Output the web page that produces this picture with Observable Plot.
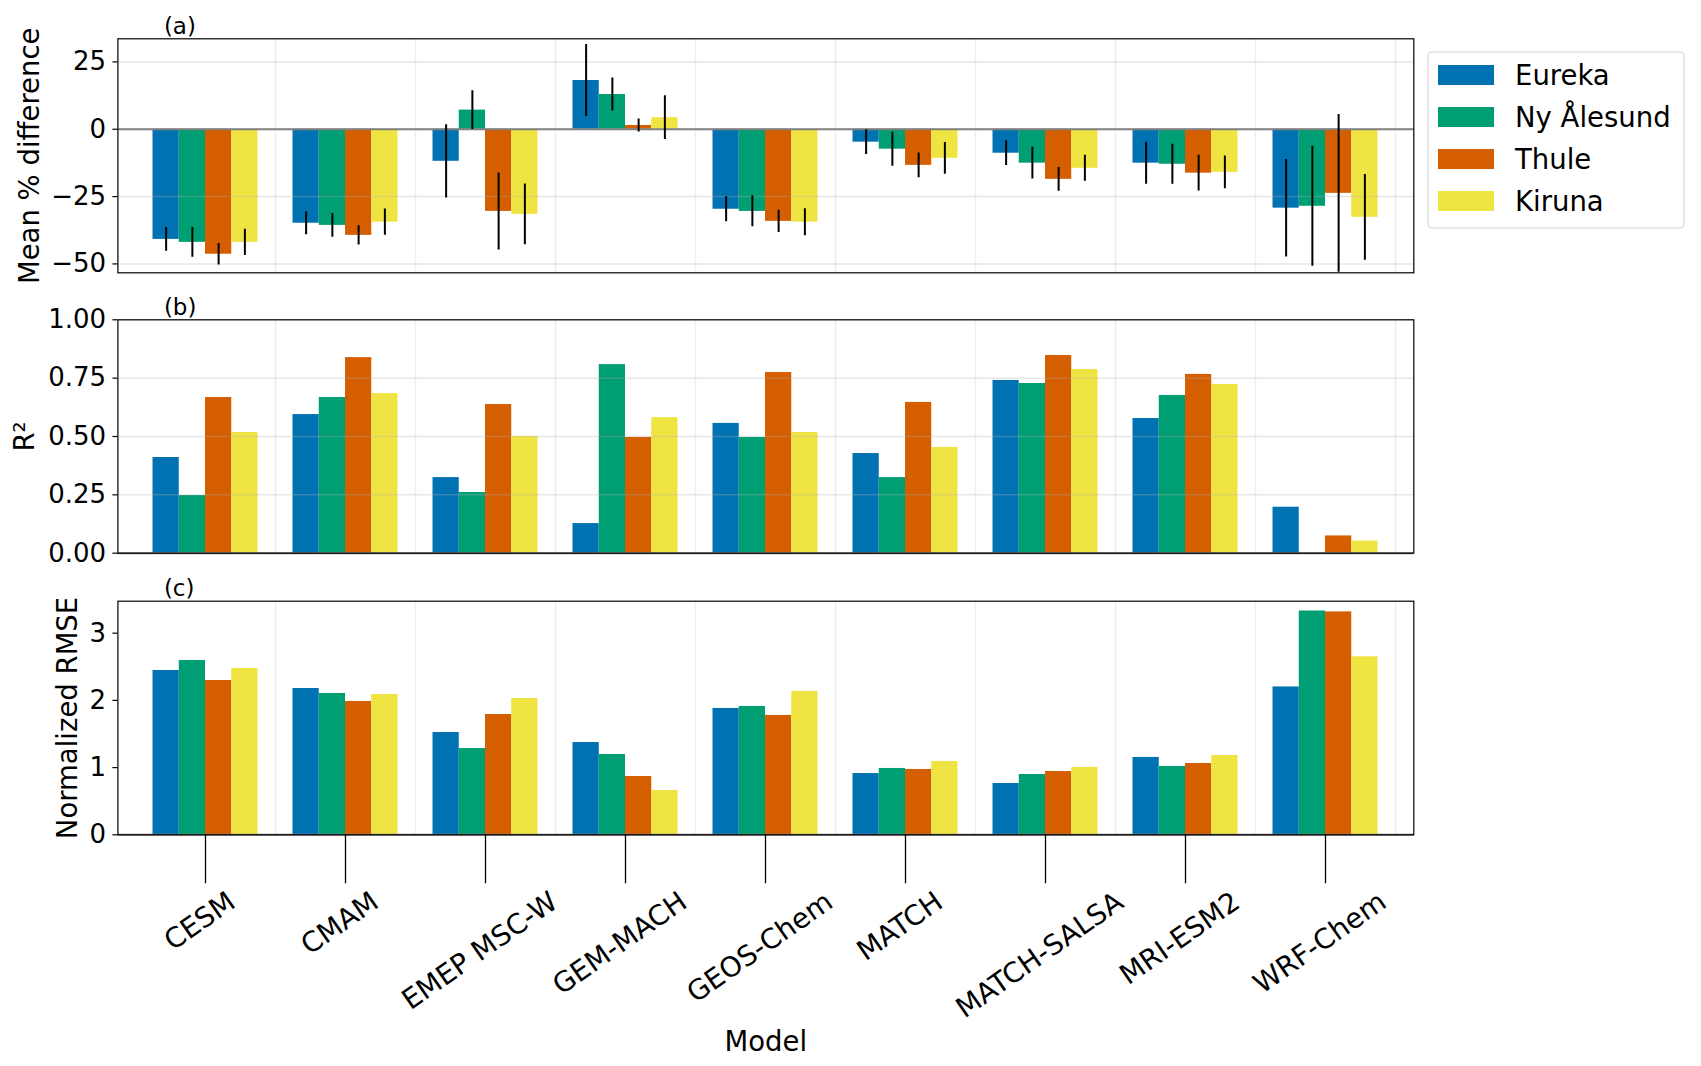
<!DOCTYPE html>
<html><head><meta charset="utf-8">
<script src="https://cdn.jsdelivr.net/npm/d3@7"></script>
<script src="https://cdn.jsdelivr.net/npm/@observablehq/plot@0.6"></script>
<style>
body{margin:0;background:white;}
#wrap{position:relative;width:1701px;height:1066px;font-family:"DejaVu Sans";background:white;}
#wrap svg{position:absolute;left:0;top:0;max-width:none;}
</style></head><body><div id="wrap"></div>
<script>
const models = ["CESM","CMAM","EMEP MSC-W","GEM-MACH","GEOS-Chem","MATCH","MATCH-SALSA","MRI-ESM2","WRF-Chem"];
const stations = ["Eureka","Ny Ålesund","Thule","Kiruna"];
const stationColors = ["#0072B2","#009E73","#D55E00","#F0E442"];
// rows: models, columns: stations (Eureka, Ny Ålesund, Thule, Kiruna)
const meanDiff = [
  [-40.9,-42.0,-46.4,-42.0],
  [-34.9,-35.7,-39.4,-34.5],
  [-11.9,  7.1,-30.5,-31.6],
  [ 18.1, 12.9,  1.4,  4.3],
  [-29.7,-30.5,-34.2,-34.5],
  [ -4.8, -7.4,-13.4,-10.8],
  [ -8.9,-12.6,-18.6,-14.5],
  [-12.6,-13.0,-16.3,-16.0],
  [-29.3,-28.6,-23.8,-32.7]
];
const meanDiffErr = [
  [ 4.4, 5.5, 4.0, 4.9],
  [ 4.3, 4.4, 3.6, 4.9],
  [13.6, 7.2,14.3,11.3],
  [13.4, 6.1, 2.4, 8.1],
  [ 4.6, 5.7, 4.1, 5.0],
  [ 4.6, 6.3, 4.6, 5.9],
  [ 4.6, 5.9, 4.4, 4.8],
  [ 7.8, 7.4, 6.6, 6.1],
  [18.1,22.3,29.3,15.9]
];
const r2 = [
  [0.410,0.247,0.667,0.517],
  [0.594,0.667,0.838,0.684],
  [0.324,0.260,0.637,0.500],
  [0.127,0.808,0.496,0.581],
  [0.556,0.496,0.774,0.517],
  [0.427,0.324,0.646,0.453],
  [0.740,0.727,0.847,0.787],
  [0.577,0.676,0.766,0.723],
  [0.197,null ,0.074,0.052]
];
const rmse = [
  [2.445,2.594,2.296,2.475],
  [2.177,2.103,1.984,2.088],
  [1.522,1.284,1.790,2.028],
  [1.373,1.195,0.868,0.659],
  [1.880,1.910,1.776,2.133],
  [0.912,0.987,0.972,1.091],
  [0.763,0.897,0.942,1.002],
  [1.151,1.017,1.061,1.180],
  [2.200,3.330,3.317,2.649]
];
const meanDiffTicks = [-50,-25,0,25];
const r2Ticks = [0,0.25,0.5,0.75,1];
const rmseTicks = [0,1,2,3];

const W = 1701, H = 1066;
const mL = 117.4, mR = W - 1413.3;
const BW = 0.1875; // bar width in group units
const xDomain = [-0.6257, 8.6307];
const FONT = "DejaVu Sans";
const tickFS = 26, xTickFS = 27.8, labelFS = 27.5, ROT = 35;

function rowsFor(values, errs) {
  const out = [];
  models.forEach((m, i) => stations.forEach((s, j) => {
    const v = values[i][j];
    if (v == null) return;
    out.push({model: m, station: s, x1: i + (j - 2) * BW, x2: i + (j - 1) * BW, xc: i + (j - 1.5) * BW,
              v, e: errs ? errs[i][j] : null});
  }));
  return out;
}

const minus = d => (d < 0 ? "\u2212" + Math.abs(d) : String(d));

function panel({top, bottom, yDomain, yTicks, tickFormat, values, errs, label, labelOffset, hGrid, tag, bottomAxis}) {
  const rows = rowsFor(values, errs);
  const marks = [
    Plot.rect(rows, {x1: "x1", x2: "x2", y1: 0, y2: "v", fill: "station"}),
    Plot.gridX(models.map((d, i) => i + 0.5), {stroke: "#b0b0b0", strokeOpacity: 0.22, strokeWidth: 1.4})
  ];
  if (hGrid) marks.push(Plot.gridY(yTicks, {stroke: "#b0b0b0", strokeOpacity: 0.3, strokeWidth: 1.5}));
  marks.push(Plot.ruleY([0], {stroke: "#808080", strokeWidth: 2}));
  if (errs) marks.push(Plot.ruleX(rows, {x: "xc", y1: d => d.v - d.e, y2: d => d.v + d.e, stroke: "black", strokeWidth: 2, clip: true}));
  marks.push(Plot.frame({stroke: "black", strokeWidth: 1.2}));
  marks.push(Plot.axisY(yTicks, {tickSize: 5, tickPadding: 6.8, tickFormat, label: null, fontSize: tickFS, strokeWidth: 1.2}));
  marks.push(Plot.axisY({ticks: [], tickSize: 0, label, labelAnchor: "center", labelOffset, labelArrow: "none", fontSize: labelFS}));
  marks.push(Plot.text([tag], {text: d => d, frameAnchor: "top-left", dx: 46, dy: -5.3, lineAnchor: "bottom", fontSize: 23}));
  if (bottomAxis) {
    marks.push(Plot.axisX(models.map((d, i) => i), {tickSize: 49, tickFormat: () => "", label: null, strokeWidth: 1.3}));
    marks.push(Plot.axisX({ticks: [], tickSize: 0, label: "Model", labelAnchor: "center", labelOffset: 215.7, labelArrow: "none", fontSize: labelFS}));
    marks.push(Plot.text(models, {x: (d, i) => i, text: d => d, frameAnchor: "bottom", rotate: -ROT, textAnchor: "middle", lineAnchor: "middle", fontSize: xTickFS}));
  }
  return Plot.plot({
    width: W, height: H,
    marginLeft: mL, marginRight: mR, marginTop: top, marginBottom: H - bottom,
    x: {type: "linear", domain: xDomain, axis: null},
    y: {domain: yDomain, axis: null},
    color: {domain: stations, range: stationColors},
    style: {fontFamily: FONT, color: "black", background: "transparent", overflow: "visible"},
    marks
  });
}

const wrap = document.getElementById("wrap");

const pa = panel({top: 38.3, bottom: 272.3, yDomain: [-53.3, 33.58], yTicks: meanDiffTicks, tickFormat: minus,
  values: meanDiff, errs: meanDiffErr, label: "Mean % difference", labelOffset: 98.7, hGrid: true, tag: "(a)"});
const pb = panel({top: 319.3, bottom: 552.7, yDomain: [0, 1], yTicks: r2Ticks, tickFormat: d3.format(".2f"),
  values: r2, errs: null, label: "R²", labelOffset: 103.4, hGrid: true, tag: "(b)"});
const pc = panel({top: 600.7, bottom: 834.3, yDomain: [0, 3.476], yTicks: rmseTicks, tickFormat: d => String(d),
  values: rmse, errs: null, label: "Normalized RMSE", labelOffset: 60.4, hGrid: false, tag: "(c)", bottomAxis: true});
wrap.append(pa, pb, pc);

// matplotlib-style centred rotated tick labels: bbox top aligned under the ticks
const sin = Math.sin(ROT * Math.PI / 180), cos = Math.cos(ROT * Math.PI / 180);
const xs = pc.scale("x");
pc.querySelectorAll("text").forEach(el => {
  const i = models.indexOf(el.textContent);
  if (i < 0) return;
  const w = el.getComputedTextLength();
  const bh = w * sin + 1.164 * xTickFS * cos;
  const cy = 834.3 + 49 + 9.5 + bh / 2;
  const cx = xs.apply(i);
  let g = el.parentNode, ox = 0, oy = 0;
  const gt = g && g.getAttribute && g.getAttribute("transform");
  if (gt) { const m = gt.match(/translate\(\s*([-\d.e]+)[ ,]+([-\d.e]+)/); if (m) { ox = +m[1]; oy = +m[2]; } }
  el.removeAttribute("x"); el.removeAttribute("y");
  el.setAttribute("transform", `translate(${cx - ox},${cy - oy}) rotate(${-ROT})`);
});

// legend
const lg = d3.create("svg").attr("width", W).attr("height", H).style("font-family", FONT);
lg.append("rect").attr("x", 1428).attr("y", 52).attr("width", 256).attr("height", 176).attr("rx", 4)
  .attr("fill", "white").attr("stroke", "#d6d6d6").attr("stroke-width", 1.2);
stations.forEach((s, j) => {
  const cy = 75 + j * 42;
  lg.append("rect").attr("x", 1438).attr("y", cy - 10).attr("width", 56).attr("height", 20).attr("fill", stationColors[j]);
  lg.append("text").attr("x", 1515).attr("y", cy + 0.365 * labelFS).attr("font-size", labelFS).attr("fill", "black").text(s);
});
wrap.append(lg.node());
</script></body></html>
